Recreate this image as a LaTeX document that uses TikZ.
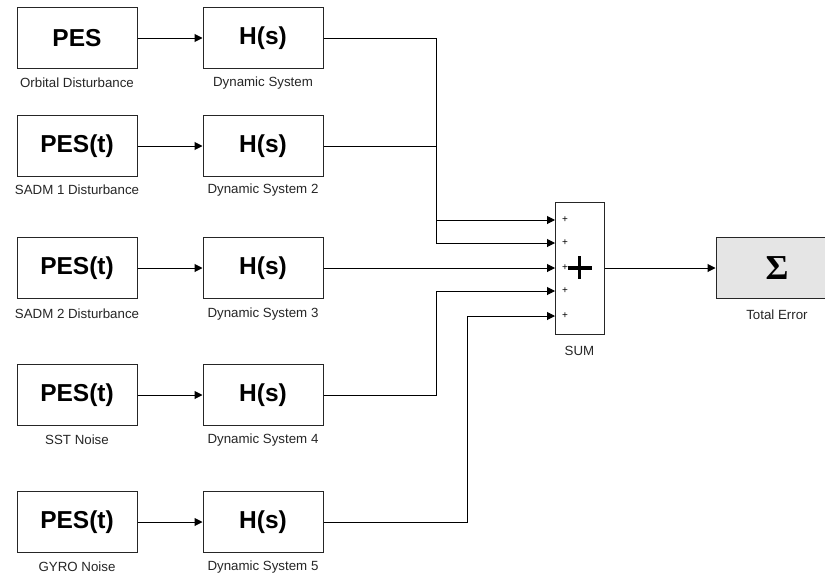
\documentclass[tikz,border=0pt]{standalone}
\usepackage{fontspec}
\setmainfont{Liberation Sans}
\newfontfamily\sigfont{Liberation Serif}
\usetikzlibrary{arrows.meta,calc}
\begin{document}
\begin{tikzpicture}[x=1pt,y=-1pt,
  blk/.style={draw=black!85,line width=1pt,minimum width=120pt,minimum height=61pt,inner sep=0pt,
    font=\fontsize{24.5}{26}\selectfont\bfseries},
  lbl/.style={font=\fontsize{13.3}{15}\selectfont,text=black!85,inner sep=0pt},
  conn/.style={line width=1pt,draw=black,-{Triangle[length=8pt,width=8pt]}},
  pl/.style={font=\fontsize{10}{11}\selectfont,inner sep=0pt}]
\useasboundingbox (0,0) rectangle (825,576);
\clip (0,0) rectangle (825,576);
\fill[white] (0,0) rectangle (825,576);
% sources
\node[blk] (p1) at (77,38) {PES};
\node[blk] (p2) at (77,146) {PES(t)};
\node[blk] (p3) at (77,268) {PES(t)};
\node[blk] (p4) at (77,395) {PES(t)};
\node[blk] (p5) at (77,522) {PES(t)};
% systems
\node[blk] (h1) at (263,38) {H(s)};
\node[blk] (h2) at (263,146) {H(s)};
\node[blk] (h3) at (263,268) {H(s)};
\node[blk] (h4) at (263,395) {H(s)};
\node[blk] (h5) at (263,522) {H(s)};
% labels
\node[lbl] (lp1) at (77,83) {Orbital Disturbance};
\node[lbl] (lp2) at (77,190) {SADM 1 Disturbance};
\node[lbl] (lp3) at (77,314) {SADM 2 Disturbance};
\node[lbl] (lp4) at (77,440) {SST Noise};
\node[lbl] (lp5) at (77,567) {GYRO Noise};
\node[lbl] (lh1) at (263,83) {Dynamic System};
\node[lbl] (lh2) at (263,190) {Dynamic System 2};
\node[lbl] (lh3) at (263,314) {Dynamic System 3};
\node[lbl] (lh4) at (263,440) {Dynamic System 4};
\node[lbl] (lh5) at (263,567) {Dynamic System 5};
% sum block
\node[draw=black!85,line width=1pt,minimum width=49pt,minimum height=132pt,inner sep=0pt] (sum) at (579.5,268) {};
\node[lbl] (lsum) at (579.5,351) {SUM};
\coordinate (in1) at (555,220);
\coordinate (in2) at (555,243);
\coordinate (in3) at (555,268);
\coordinate (in4) at (555,291);
\coordinate (in5) at (555,316);
\foreach \i in {1,...,5}{\node[pl] at ($(in\i)+(10,0)$) {+};}
\draw[line width=3.8pt,black] ($(sum.center)+(-12,0)$) -- ($(sum.center)+(12,0)$)
  ($(sum.center)+(0,-12)$) -- ($(sum.center)+(0,11)$);
% total error
\node[draw=black!85,line width=1pt,fill=black!10,minimum width=122pt,minimum height=61pt,inner sep=0pt,
  font=\fontsize{35}{36}\selectfont\sigfont\bfseries] (te) at (777,268) {Σ};
\node[lbl] (lte) at (777,315) {Total Error};
% connectors
\foreach \i in {1,...,5}{\draw[conn] (p\i) -- (h\i);}
\draw[conn] (h1.east) -| (436,220) -- (in1);
\draw[conn] (h2.east) -| (436,243) -- (in2);
\draw[conn] (h3.east) -- (in3);
\draw[conn] (h4.east) -| (436,291) -- (in4);
\draw[conn] (h5.east) -| (467,316) -- (in5);
\draw[conn] (sum.east) -- (te.west);
\end{tikzpicture}
\end{document}
